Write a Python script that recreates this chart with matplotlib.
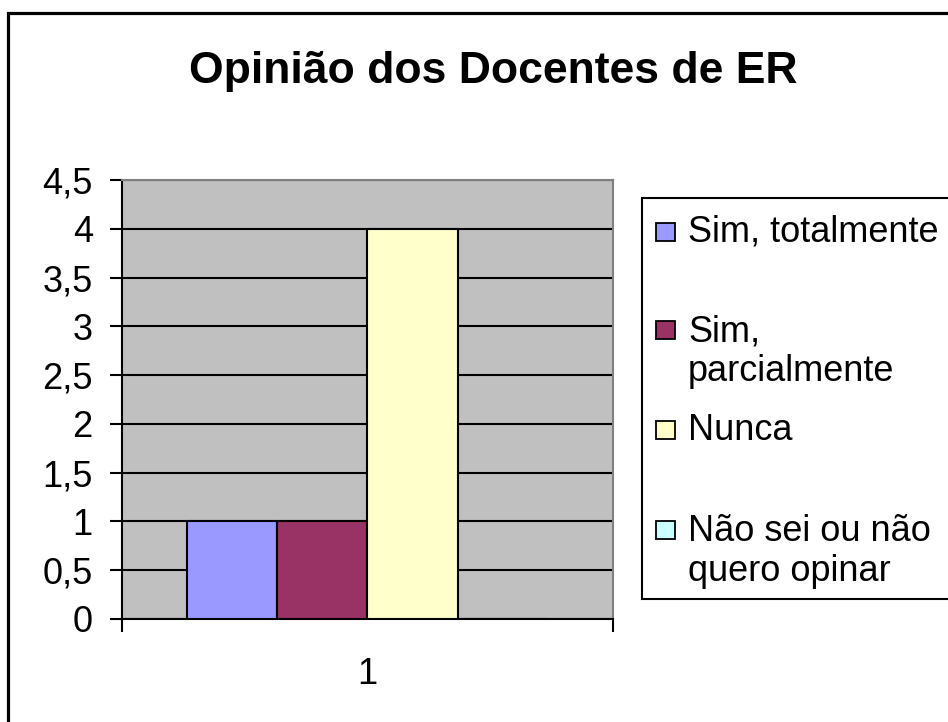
import matplotlib
matplotlib.use("Agg")
import matplotlib.pyplot as plt
from matplotlib.patches import Rectangle
from matplotlib.ticker import FixedLocator, FuncFormatter

plt.rcParams['font.family'] = ['Liberation Sans', 'DejaVu Sans']

title = "Opinião dos Docentes de ER"
categories = ["1"]
series_names = ["Sim, totalmente", "Sim,\nparcialmente", "Nunca", "Não sei ou não\nquero opinar"]
series_values = [1, 1, 4, 0]
series_colors = ["#9999FF", "#993366", "#FFFFCC", "#CCFFFF"]
yticks = [0, 0.5, 1, 1.5, 2, 2.5, 3, 3.5, 4, 4.5]

W, H = 948, 722
fig = plt.figure(figsize=(W / 100, H / 100), dpi=100)

def fx(px):
    return px / W

def fy(py):
    return 1 - py / H

# outer chart border (extends beyond the image on right/bottom)
fig.patches.append(Rectangle((fx(7.5), fy(740)), fx(1000), fy(13.5) - fy(740),
                             transform=fig.transFigure, fill=False,
                             edgecolor='black', linewidth=2.3, zorder=0))

# plot area
L, R, T, B = 122, 613, 180, 619
ax = fig.add_axes([fx(L), fy(B), fx(R - L), fy(T) - fy(B)])
ax.set_facecolor('#C0C0C0')

n = len(series_values)
bw = 0.1833
for i, (name, v, c) in enumerate(zip(series_names, series_values, series_colors)):
    xpos = 1 + (i - (n - 1) / 2) * bw
    ax.bar(xpos, v, width=bw, color=c, edgecolor='black', linewidth=1.5, zorder=3)

ax.set_xlim(0.5, 1.5)
ax.set_ylim(0, 4.5)
ax.yaxis.set_major_locator(FixedLocator(yticks))
ax.yaxis.set_major_formatter(FuncFormatter(lambda v, p: ('%g' % v).replace('.', ',')))
ax.grid(axis='y', color='black', linewidth=1.5, zorder=1)
ax.set_axisbelow(True)

ax.xaxis.set_major_locator(FixedLocator([0.5, 1.5]))
ax.xaxis.set_major_formatter(FuncFormatter(lambda v, p: ''))
ax.xaxis.set_minor_locator(FixedLocator([1]))
ax.set_xticklabels(categories, minor=True)
ax.tick_params(axis='x', which='major', direction='out', length=9, width=1.5, color='black')
ax.tick_params(axis='x', which='minor', length=0, pad=27, labelsize=26)
ax.tick_params(axis='y', which='major', direction='out', length=9, width=1.5, pad=12, labelsize=26)

for s in ['left', 'bottom']:
    ax.spines[s].set_color('black')
    ax.spines[s].set_linewidth(1.5)
for s in ['top', 'right']:
    ax.spines[s].set_color('#808080')
    ax.spines[s].set_linewidth(1.5)

# title
fig.text(fx(493.5), fy(83), title, ha='center', va='baseline',
         fontsize=32, fontweight='bold')

# legend
fig.patches.append(Rectangle((fx(642), fy(599)), fx(400), fy(198) - fy(599),
                             transform=fig.transFigure, fill=True, facecolor='white',
                             edgecolor='black', linewidth=1.5, zorder=1))
entry_y = [232, 351.5, 430, 551.5]
for name, c, yc in zip(series_names, series_colors, entry_y):
    nlines = name.count('\n') + 1
    first_line_y = yc - (nlines - 1) * 43 / 2
    fig.patches.append(Rectangle((fx(656), fy(first_line_y + 9)), fx(19), fy(first_line_y - 9) - fy(first_line_y + 9),
                                 transform=fig.transFigure, facecolor=c,
                                 edgecolor='black', linewidth=1.3, zorder=2))
    fig.text(fx(688), fy(yc), name, ha='left', va='center', fontsize=26,
             linespacing=1.15, zorder=3)

fig.savefig('out.png', dpi=100)
